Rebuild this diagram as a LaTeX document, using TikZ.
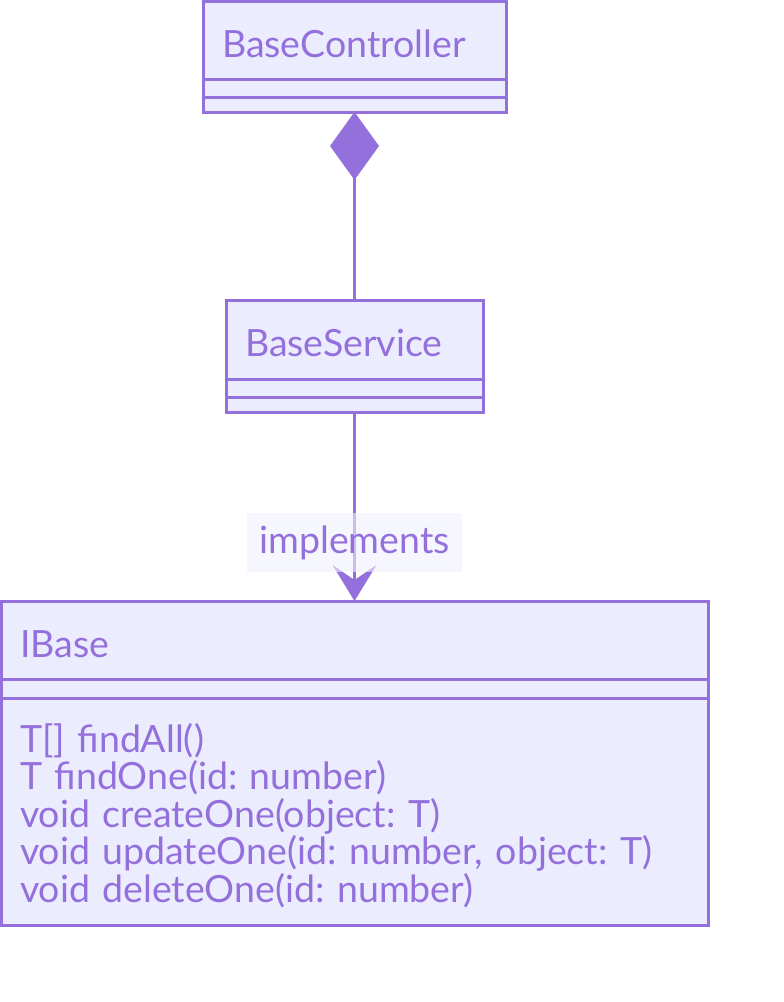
\documentclass[tikz,border=0pt]{standalone}
\usepackage{fontspec}
\setmainfont{Lato}
\usetikzlibrary{arrows.meta, positioning}
\usepackage{xcolor}
\definecolor{mline}{HTML}{9370DB}
\definecolor{mfill}{HTML}{ECECFF}
\definecolor{lblbg}{RGB}{240,240,255}
\newcommand{\umlfont}{\fontsize{37.5}{37.5}\selectfont\frenchspacing}

\begin{document}
\begin{tikzpicture}[
  x=1pt, y=-1pt,
  cls/.style={draw=mline, fill=mfill, line width=3pt, outer sep=0pt,
  inner xsep=19pt, inner ysep=0pt, align=left, font=\umlfont, text=mline},
  head/.style={cls, anchor=north west, text height=34pt, text depth=0pt},
  comp/.style={-{Diamond[length=68pt, width=49pt]}, line width=3pt, mline},
  impl/.style={-{Stealth[length=36pt, width=44pt, inset=15pt]}, line width=3pt, mline},
  lbl/.style={fill=lblbg, fill opacity=0.6, text opacity=1, text=mline,
  font=\umlfont, minimum width=215pt, minimum height=59pt, inner sep=0pt}
]
\useasboundingbox (0,0) rectangle (784,1002);
% BaseController
\node[head, text width=265pt, minimum height=78pt] (ctrl) at (203,1) {BaseController};
\node[cls, below=0pt of ctrl, minimum width=303pt, minimum height=18pt] (ctrlAttr) {};
\node[cls, below=0pt of ctrlAttr, minimum width=303pt, minimum height=15pt] (ctrlMeth) {};
% BaseService
\node[head, text width=219pt, minimum height=79pt] (svc) at (226,300) {BaseService};
\node[cls, below=0pt of svc, minimum width=257pt, minimum height=18pt] (svcAttr) {};
\node[cls, below=0pt of svcAttr, minimum width=257pt, minimum height=15pt] (svcMeth) {};
% IBase
\node[head, text width=669pt, minimum height=78pt] (base) at (1,601) {IBase};
\node[cls, below=0pt of base, minimum width=707pt, minimum height=19pt] (baseAttr) {};
\node[cls, below=0pt of baseAttr, text width=669pt, text depth=148pt, minimum height=227pt] (baseMeth) {%
  T[] findAll()\\
  T findOne(id: number)\\
  void createOne(object: T)\\
  void updateOne(id: number, object: T)\\
  void deleteOne(id: number)};
\draw[comp] (svc.north) -- (ctrlMeth.south);
\draw[impl] (svcMeth.south) -- (base.north) node[lbl, pos=0.69] (implLbl) {implements};
\end{tikzpicture}
\end{document}
